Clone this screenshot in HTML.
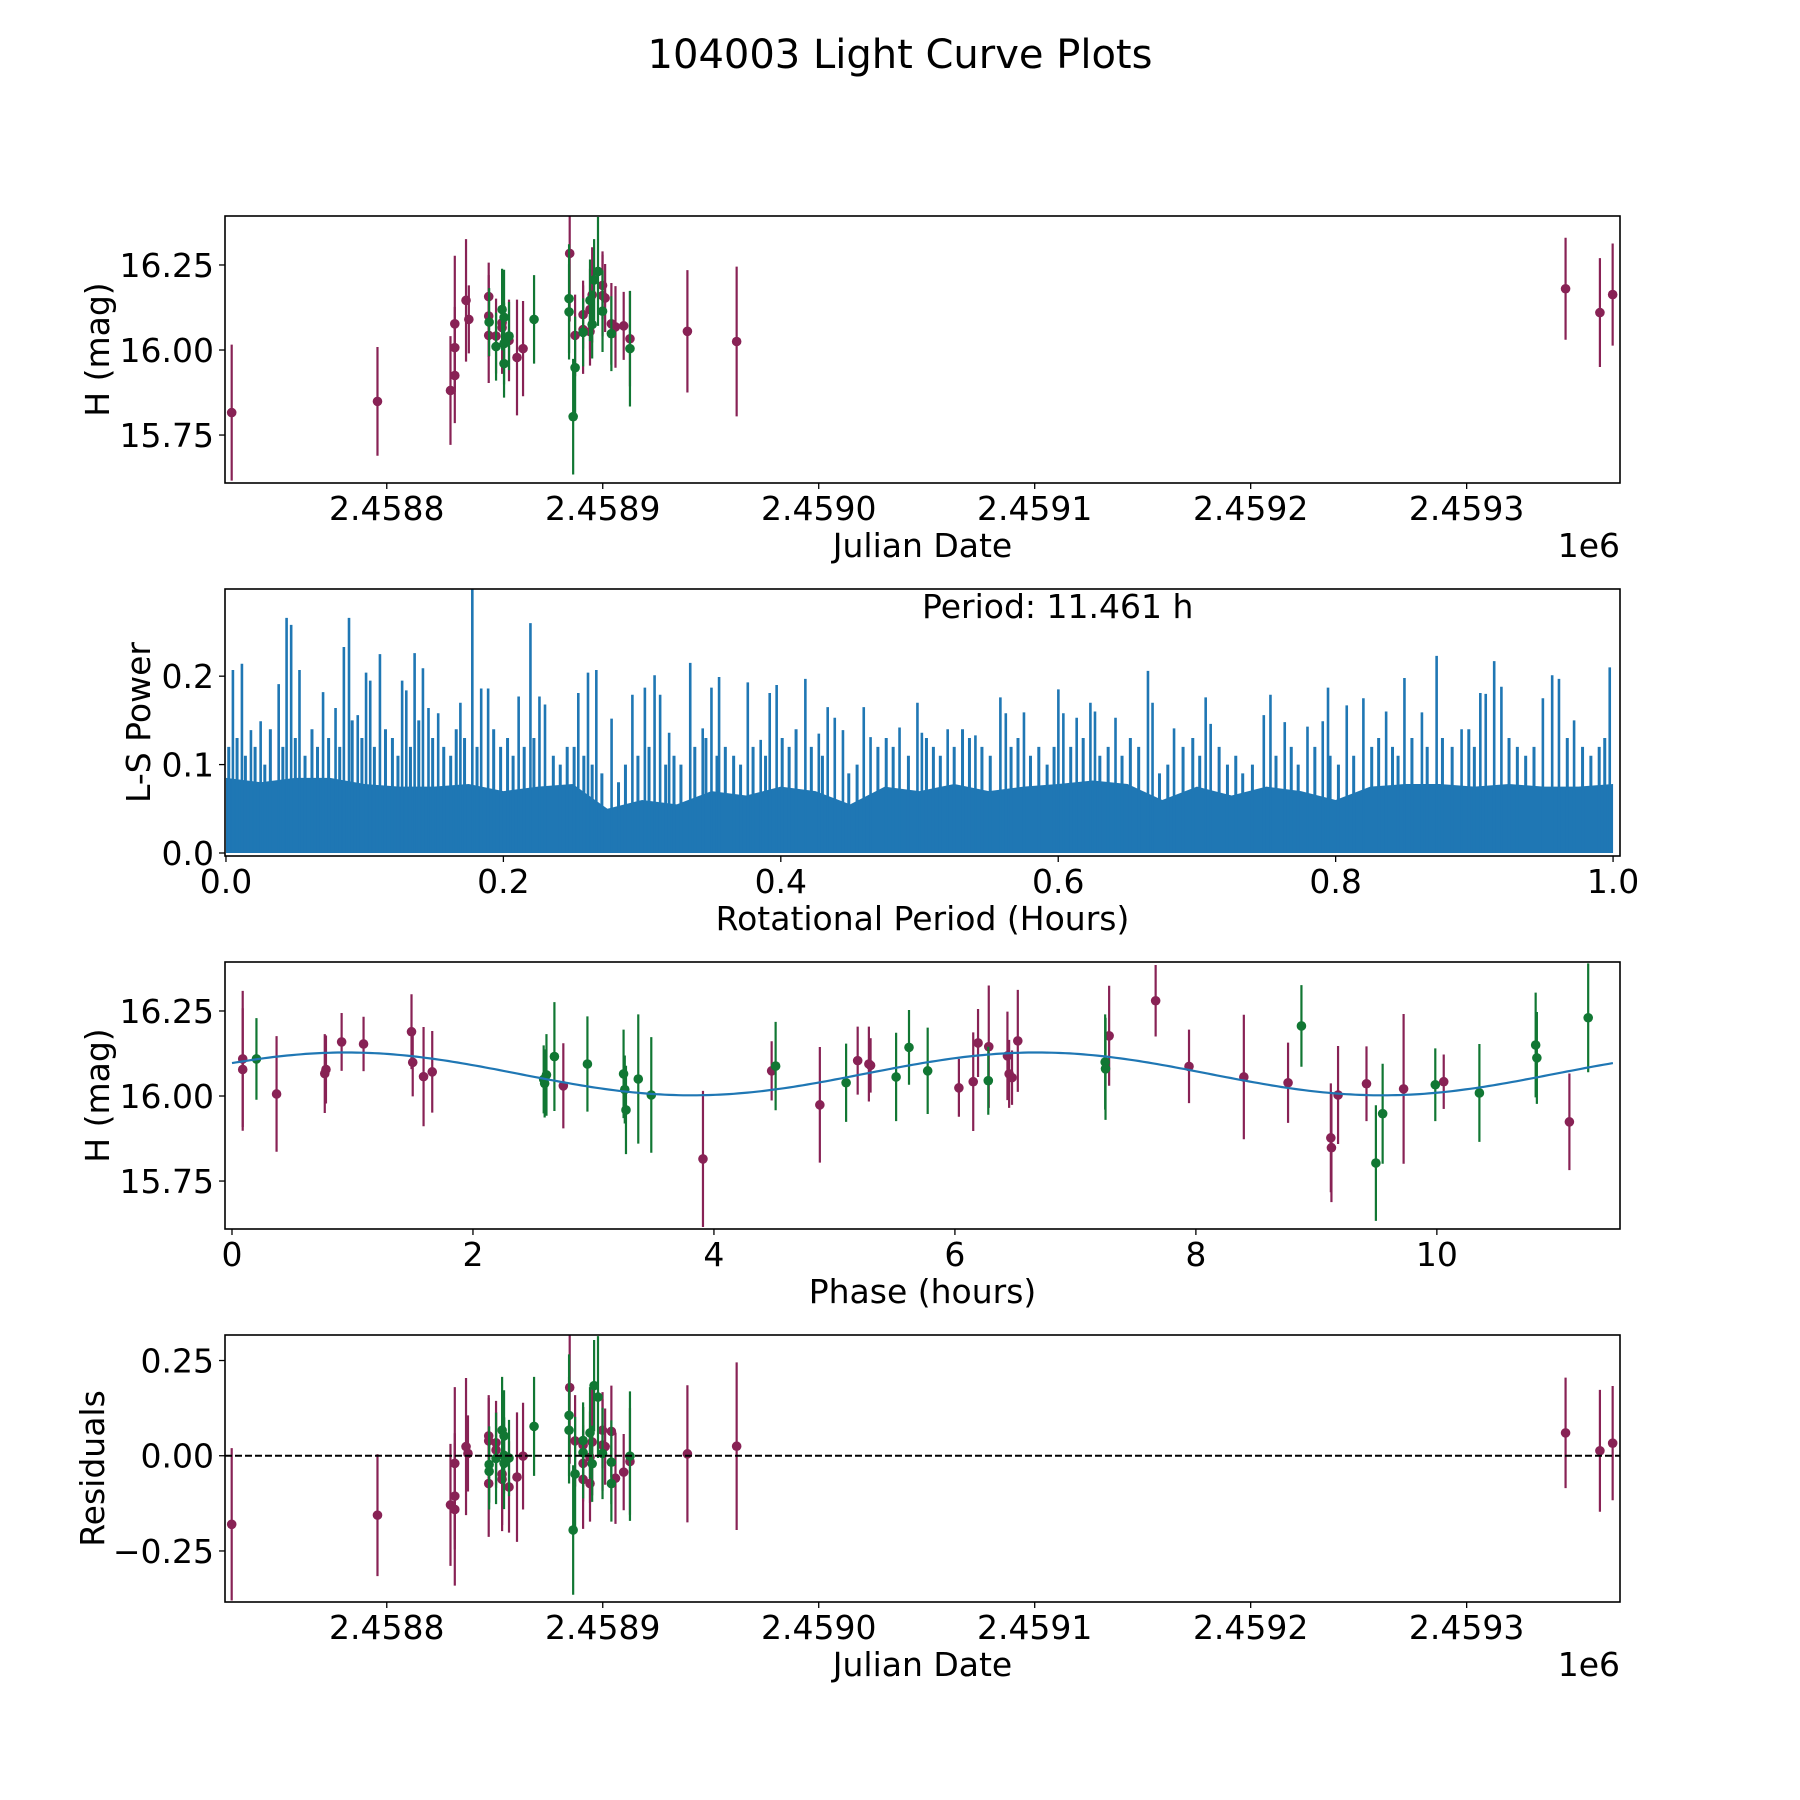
<!DOCTYPE html>
<html><head><meta charset="utf-8"><title>104003 Light Curve Plots</title>
<style>html,body{margin:0;padding:0;background:#fff}svg{display:block}text{font-family:"DejaVu Sans","Liberation Sans",sans-serif;fill:#000}</style>
</head><body>
<svg id="fig" xmlns="http://www.w3.org/2000/svg" width="1800" height="1800" viewBox="0 0 1800 1800">
<rect x="0" y="0" width="1800" height="1800" fill="#fff"/>
<text x="900" y="68" font-size="40" text-anchor="middle">104003 Light Curve Plots</text>
<g id="layer"></g>
</svg>
<script>
// ---------- data: panel 1 (H vs Julian Date), JD given as offset from 2458800 ----------
const jdBase = 2458800;
const lcPurpleJd = [-71.8,-4.3,29.5,31.5,31.5,31.5,36.7,38.0,47.2,47.2,47.2,50.6,53.4,53.4,56.6,60.3,63.1,84.7,87.2,90.9,90.9,94.1,94.1,95.1,99.9,99.9,101.1,104,105.9,109.7,112.6,139.2,162,545.8,561.7,567.6];
const lcPurpleMag = [15.816,15.849,15.881,15.925,16.007,16.077,16.146,16.09,16.157,16.10,16.043,16.041,16.08,16.066,16.028,15.978,16.004,16.284,16.043,16.104,16.06,16.054,16.119,16.162,16.19,16.16,16.153,16.077,16.068,16.071,16.033,16.055,16.025,16.18,16.11,16.163];
const lcPurpleErr = [0.2,0.16,0.16,0.14,0.12,0.2,0.18,0.1,0.1,0.12,0.14,0.11,0.15,0.12,0.12,0.17,0.14,0.2,0.12,0.1,0.13,0.1,0.12,0.14,0.1,0.12,0.1,0.12,0.12,0.1,0.14,0.18,0.22,0.15,0.16,0.15];
const lcGreenJd = [47.4,50.6,53.4,54.3,54.3,54.3,56.6,68.2,84.4,84.4,86.3,87.2,90.9,94.1,95.1,96,97.8,99.9,104,112.6];
const lcGreenMag = [16.082,16.01,16.119,16.096,15.96,16.019,16.041,16.09,16.151,16.112,15.804,15.948,16.052,16.146,16.075,16.206,16.231,16.114,16.048,16.004];
const lcGreenErr = [0.1,0.1,0.12,0.14,0.1,0.12,0.1,0.13,0.16,0.14,0.17,0.15,0.1,0.12,0.1,0.12,0.16,0.12,0.11,0.17];
const jdTicks = [2458800,2458900,2459000,2459100,2459200,2459300];
const jdTickLabels = ["2.4588","2.4589","2.4590","2.4591","2.4592","2.4593"];
const magTicks = [15.75,16.00,16.25];
const magTickLabels = ["15.75","16.00","16.25"];

// ---------- data: panel 2 (periodogram) ----------
const pgPeakPeriod = [0.005,0.0115,0.018,0.025,0.038,0.0437,0.047,0.053,0.07,0.079,0.085,0.0887,0.095,0.101,0.104,0.111,0.127,0.130,0.136,0.142,0.146,0.153,0.169,0.1776,0.184,0.189,0.211,0.2195,0.226,0.230,0.254,0.261,0.267,0.278,0.293,0.302,0.309,0.313,0.3195,0.3347,0.3437,0.350,0.3555,0.3762,0.3855,0.392,0.397,0.4177,0.4274,0.4338,0.4389,0.4448,0.4598,0.4647,0.4856,0.4985,0.5017,0.5203,0.5403,0.5583,0.5622,0.5753,0.6001,0.6037,0.6133,0.6232,0.6265,0.6413,0.6647,0.668,0.6835,0.7063,0.7099,0.7482,0.753,0.7633,0.7797,0.7907,0.7945,0.808,0.82,0.8364,0.8496,0.8622,0.8728,0.8908,0.9043,0.9082,0.9143,0.9195,0.9494,0.9561,0.961,0.9719,0.9976];
const pgPeakPower = [0.207,0.214,0.139,0.149,0.191,0.266,0.258,0.207,0.182,0.164,0.233,0.266,0.156,0.204,0.195,0.225,0.195,0.184,0.226,0.209,0.164,0.158,0.170,0.300,0.186,0.186,0.177,0.26,0.177,0.168,0.181,0.204,0.207,0.152,0.179,0.187,0.201,0.179,0.136,0.215,0.141,0.187,0.199,0.193,0.128,0.181,0.190,0.197,0.135,0.165,0.153,0.139,0.165,0.131,0.142,0.170,0.136,0.140,0.133,0.176,0.158,0.159,0.185,0.158,0.153,0.170,0.160,0.153,0.206,0.170,0.141,0.176,0.146,0.156,0.179,0.148,0.143,0.149,0.187,0.167,0.175,0.160,0.198,0.159,0.223,0.140,0.181,0.180,0.217,0.188,0.175,0.201,0.197,0.150,0.210];
const pgMinorPeriod = [0.002,0.008,0.014,0.021,0.028,0.032,0.041,0.050,0.057,0.062,0.066,0.074,0.082,0.091,0.098,0.107,0.115,0.120,0.124,0.133,0.139,0.149,0.157,0.162,0.166,0.172,0.181,0.193,0.198,0.203,0.207,0.215,0.222,0.236,0.241,0.246,0.251,0.258,0.264,0.271,0.283,0.288,0.297,0.305,0.317,0.323,0.328,0.338,0.346,0.354,0.360,0.366,0.371,0.380,0.389,0.401,0.406,0.411,0.422,0.430,0.449,0.455,0.470,0.476,0.481,0.492,0.505,0.510,0.515,0.525,0.531,0.536,0.545,0.551,0.566,0.571,0.580,0.586,0.592,0.597,0.609,0.618,0.630,0.636,0.646,0.652,0.658,0.673,0.679,0.690,0.697,0.702,0.716,0.722,0.728,0.733,0.740,0.757,0.768,0.773,0.785,0.796,0.802,0.813,0.826,0.831,0.841,0.845,0.855,0.866,0.877,0.884,0.896,0.900,0.925,0.931,0.937,0.943,0.967,0.978,0.984,0.990,0.994];
const pgMinorPower = [0.12,0.13,0.11,0.12,0.10,0.14,0.12,0.13,0.11,0.14,0.12,0.13,0.12,0.15,0.13,0.12,0.14,0.13,0.11,0.12,0.15,0.13,0.12,0.11,0.14,0.13,0.12,0.14,0.12,0.13,0.11,0.12,0.13,0.11,0.10,0.12,0.12,0.11,0.10,0.09,0.08,0.10,0.11,0.12,0.10,0.11,0.10,0.12,0.13,0.11,0.12,0.11,0.10,0.12,0.11,0.13,0.12,0.14,0.12,0.11,0.09,0.10,0.12,0.13,0.12,0.11,0.13,0.12,0.11,0.12,0.14,0.13,0.12,0.11,0.12,0.13,0.11,0.12,0.10,0.12,0.12,0.13,0.11,0.12,0.11,0.13,0.12,0.09,0.10,0.12,0.13,0.11,0.12,0.10,0.11,0.09,0.10,0.11,0.12,0.10,0.12,0.11,0.10,0.11,0.12,0.13,0.12,0.11,0.13,0.12,0.13,0.12,0.14,0.12,0.13,0.12,0.11,0.12,0.13,0.12,0.11,0.12,0.13];
const pgBandPeriod = [0,0.025,0.05,0.075,0.1,0.125,0.15,0.175,0.2,0.225,0.25,0.275,0.3,0.325,0.35,0.375,0.4,0.425,0.45,0.475,0.5,0.525,0.55,0.575,0.6,0.625,0.65,0.675,0.7,0.725,0.75,0.775,0.8,0.825,0.85,0.875,0.9,0.925,0.95,0.975,1.0];
const pgBandPower = [0.085,0.08,0.085,0.085,0.078,0.075,0.075,0.078,0.07,0.075,0.078,0.05,0.06,0.055,0.07,0.065,0.075,0.07,0.055,0.075,0.07,0.078,0.07,0.075,0.078,0.082,0.078,0.06,0.075,0.065,0.075,0.07,0.06,0.075,0.078,0.078,0.075,0.078,0.075,0.075,0.078];
const periodTicks = [0,0.2,0.4,0.6,0.8,1.0];
const periodTickLabels = ["0.0","0.2","0.4","0.6","0.8","1.0"];
const powerTicks = [0,0.1,0.2];
const powerTickLabels = ["0.0","0.1","0.2"];

// ---------- data: panel 3 (phase-folded) ----------
const phPurplePhase = [0.089,0.089,0.37,0.77,0.78,0.91,1.092,1.49,1.50,1.59,1.662,2.75,3.909,4.479,4.879,5.193,5.286,5.30,6.033,6.152,6.192,6.281,6.436,6.45,6.474,6.522,7.28,7.666,7.943,8.398,8.765,9.12,9.125,9.18,9.416,9.724,10.057,11.1];
const phPurpleMag = [16.109,16.078,16.006,16.066,16.078,16.159,16.153,16.189,16.099,16.057,16.071,16.03,15.815,16.074,15.974,16.104,16.094,16.09,16.024,16.042,16.156,16.145,16.118,16.065,16.054,16.162,16.177,16.28,16.087,16.056,16.039,15.877,15.848,16.003,16.036,16.021,16.042,15.924];
const phPurpleErr = [0.2,0.18,0.17,0.116,0.1,0.085,0.08,0.11,0.1,0.146,0.12,0.125,0.2,0.087,0.17,0.1,0.11,0.08,0.085,0.145,0.1,0.18,0.13,0.1,0.08,0.15,0.147,0.105,0.108,0.183,0.118,0.16,0.16,0.144,0.11,0.22,0.08,0.142];
const phGreenPhase = [0.203,2.587,2.595,2.61,2.676,2.95,3.25,3.26,3.27,3.372,3.48,4.512,5.097,5.512,5.619,5.774,6.277,7.247,7.25,8.876,9.494,9.55,9.987,10.353,10.82,10.83,11.256];
const phGreenMag = [16.109,16.049,16.037,16.062,16.116,16.094,16.065,16.019,15.959,16.05,16.003,16.088,16.039,16.056,16.143,16.074,16.045,16.10,16.08,16.206,15.803,15.948,16.033,16.009,16.15,16.112,16.23];
const phGreenErr = [0.12,0.1,0.1,0.12,0.16,0.14,0.13,0.1,0.13,0.19,0.17,0.13,0.115,0.13,0.11,0.127,0.1,0.14,0.15,0.12,0.17,0.147,0.107,0.144,0.154,0.135,0.16];
const modelMean = 16.065, modelAmp = 0.063, modelPhase0 = 0.95, rotPeriod = 11.461;
const phaseTicks = [0,2,4,6,8,10];
const phaseTickLabels = ["0","2","4","6","8","10"];

// ---------- data: panel 4 (residuals vs JD) ----------
const resPurpleJd = [-71.8,-4.3,29.5,31.5,31.5,31.5,36.7,37.6,47.2,47.2,47.2,50.6,50.6,53.4,53.4,56.6,60.3,63.1,84.7,87.2,90.9,90.9,90.9,94.1,94.1,95.1,99.9,99.9,101.1,104,105.9,109.7,112.6,139.2,162,545.8,561.7,567.6];
const resPurpleVal = [-0.18,-0.156,-0.129,-0.106,-0.141,-0.02,0.024,0.006,0.052,0.039,-0.073,0.034,0.015,-0.048,-0.062,-0.082,-0.056,-0.001,0.179,0.039,-0.02,-0.062,0.028,-0.004,-0.073,0.036,0.067,0.028,0.024,0.064,-0.059,-0.043,-0.015,0.005,0.025,0.06,0.013,0.033];
const resPurpleErr = [0.2,0.16,0.16,0.14,0.2,0.2,0.18,0.1,0.1,0.12,0.14,0.11,0.1,0.15,0.12,0.12,0.17,0.14,0.2,0.12,0.1,0.13,0.1,0.12,0.1,0.14,0.1,0.12,0.1,0.12,0.12,0.1,0.14,0.18,0.22,0.145,0.16,0.15];
const resGreenJd = [47.4,47.4,50.6,53.4,54.3,54.3,54.3,56.6,68.2,84.4,84.4,86.3,87.2,90.9,90.9,94.1,95.1,96,97.8,99.9,104,104,112.6];
const resGreenVal = [-0.023,-0.041,-0.007,0.067,0.052,0.001,-0.02,-0.006,0.077,0.106,0.067,-0.195,-0.048,0.04,0.008,0.06,-0.021,0.184,0.154,0.006,-0.017,-0.073,-0.001];
const resGreenErr = [0.1,0.1,0.12,0.14,0.12,0.1,0.12,0.1,0.13,0.16,0.14,0.17,0.15,0.1,0.12,0.12,0.1,0.12,0.16,0.12,0.11,0.1,0.17];
const resTicks = [-0.25,0,0.25];
const resTickLabels = ["\u22120.25","0.00","0.25"];

// ---------- layout ----------
const NS = "http://www.w3.org/2000/svg";
const layer = document.getElementById('layer');
const L = 225, R = 1620;
const P1 = 216, P2 = 589, P3 = 962, P4 = 1335, PH = 267;
const FS = 33;
const PURPLE = "#882255", GREEN = "#117733", BLUE = "#1f77b4";
function mk(tag, attrs, parent) { const e = document.createElementNS(NS, tag); for (const k in attrs) e.setAttribute(k, attrs[k]); (parent || layer).appendChild(e); return e; }
function lin(d0, d1, r0, r1) { return v => r0 + (v - d0) / (d1 - d0) * (r1 - r0); }

const xJD = lin(2458725.1 - jdBase, 2459371 - jdBase, L, R);
const yMag1 = lin(16.394, 15.609, P1, P1 + PH);
const xPer = lin(-0.0007, 1.005, L, R);
const yPow = lin(0.2986, -0.0034, P2, P2 + PH);
const xPh = lin(-0.058, 11.52, L, R);
const yMag3 = lin(16.394, 15.609, P3, P3 + PH);
const yRes = lin(0.317, -0.384, P4, P4 + PH);

function frame(top, name) {
  const r = mk('rect', {x: L, y: top, width: R - L, height: PH, fill: 'none', stroke: '#000', 'stroke-width': 1.6});
  
  
}
function xTicks(top, ticks, labels, sx, name) {
  const g = mk('g', {});
  
  
  ticks.forEach((t, i) => {
    const x = sx(t);
    mk('line', {x1: x, x2: x, y1: top + PH, y2: top + PH + 6, stroke: '#000', 'stroke-width': 1.3}, g);
    const tx = mk('text', {x: x, y: top + PH + 37, 'font-size': FS, 'text-anchor': 'middle'}, g);
    tx.textContent = labels[i];
  });
}
function yTicks(top, ticks, labels, sy, name) {
  const g = mk('g', {});
  
  
  ticks.forEach((t, i) => {
    const y = sy(t);
    mk('line', {x1: L - 6, x2: L, y1: y, y2: y, stroke: '#000', 'stroke-width': 1.3}, g);
    const tx = mk('text', {x: L - 11, y: y + 12, 'font-size': FS, 'text-anchor': 'end'}, g);
    tx.textContent = labels[i];
  });
}
function xLabel(top, txt, name) {
  const t = mk('text', {x: (L + R) / 2, y: top + PH + 74, 'font-size': FS, 'text-anchor': 'middle'});
  t.textContent = txt;
  
  
}
function yLabel(top, x, txt, name) {
  const cy = top + PH / 2;
  const t = mk('text', {x: x, y: cy, 'font-size': FS, 'text-anchor': 'middle', transform: `rotate(-90 ${x} ${cy})`});
  t.textContent = txt;
  
  
}
function offsetText(top, name) {
  const t = mk('text', {x: R, y: top + PH + 74, 'font-size': FS, 'text-anchor': 'end'});
  t.textContent = '1e6';
  
  
}
function clip(id, top) {
  const cp = mk('clipPath', {id: id});
  mk('rect', {x: L, y: top, width: R - L, height: PH}, cp);
}
function errPoints(xs, ys, es, sx, sy, color, clipId, name) {
  const g = mk('g', {'clip-path': `url(#${clipId})`});
  
  
  xs.forEach((xv, i) => {
    const x = sx(xv);
    const bar = mk('line', {x1: x, x2: x, y1: sy(ys[i] + es[i]), y2: sy(ys[i] - es[i]), stroke: color, 'stroke-width': 2.2}, g);
    
    
  });
  xs.forEach((xv, i) => {
    const c = mk('circle', {cx: sx(xv), cy: sy(ys[i]), r: 4.8, fill: color}, g);
    
    
  });
}

// ---------- panel 1 ----------
clip('c1', P1);
errPoints(lcPurpleJd, lcPurpleMag, lcPurpleErr, xJD, yMag1, PURPLE, 'c1', 'lightcurve-series-purple');
errPoints(lcGreenJd, lcGreenMag, lcGreenErr, xJD, yMag1, GREEN, 'c1', 'lightcurve-series-green');
frame(P1, 'lightcurve-axes');
xTicks(P1, jdTicks.map(v => v - jdBase), jdTickLabels, xJD, 'lightcurve-x-ticks');
yTicks(P1, magTicks, magTickLabels, yMag1, 'lightcurve-y-ticks');
xLabel(P1, 'Julian Date', 'lightcurve-x-axis-title');
offsetText(P1, 'lightcurve-x-offset');
yLabel(P1, 109, 'H (mag)', 'lightcurve-y-axis-title');

// ---------- panel 2 ----------
clip('c2', P2);
{
  const g = mk('g', {'clip-path': 'url(#c2)'});
  
  
  let d = `M${xPer(pgBandPeriod[0])},${yPow(0)}`;
  pgBandPeriod.forEach((p, i) => { d += ` L${xPer(p)},${yPow(pgBandPower[i])}`; });
  d += ` L${xPer(pgBandPeriod[pgBandPeriod.length - 1])},${yPow(0)} Z`;
  const band = mk('path', {d: d, fill: BLUE}, g);
  
  
  pgMinorPeriod.forEach((p, i) => {
    const x = xPer(p);
    const s = mk('line', {x1: x, x2: x, y1: yPow(0), y2: yPow(pgMinorPower[i]), stroke: BLUE, 'stroke-width': 3}, g);
    
    
  });
  pgPeakPeriod.forEach((p, i) => {
    const x = xPer(p);
    const s = mk('line', {x1: x, x2: x, y1: yPow(0), y2: yPow(pgPeakPower[i]), stroke: BLUE, 'stroke-width': 2.6}, g);
    
    
  });
}
frame(P2, 'periodogram-axes');
xTicks(P2, periodTicks, periodTickLabels, xPer, 'periodogram-x-ticks');
yTicks(P2, powerTicks, powerTickLabels, yPow, 'periodogram-y-ticks');
xLabel(P2, 'Rotational Period (Hours)', 'periodogram-x-axis-title');
yLabel(P2, 150, 'L-S Power', 'periodogram-y-axis-title');
{
  const t = mk('text', {x: 922, y: 618, 'font-size': FS});
  t.textContent = 'Period: 11.461 h';
  
  
}

// ---------- panel 3 ----------
clip('c3', P3);
errPoints(phPurplePhase, phPurpleMag, phPurpleErr, xPh, yMag3, PURPLE, 'c3', 'phase-series-purple');
errPoints(phGreenPhase, phGreenMag, phGreenErr, xPh, yMag3, GREEN, 'c3', 'phase-series-green');
{
  let d = '';
  for (let k = 0; k <= 300; k++) {
    const ph = rotPeriod * k / 300;
    const m = modelMean + modelAmp * Math.cos(2 * Math.PI * (ph - modelPhase0) / (rotPeriod / 2));
    d += (k ? ' L' : 'M') + xPh(ph).toFixed(1) + ',' + yMag3(m).toFixed(1);
  }
  const p = mk('path', {d: d, fill: 'none', stroke: BLUE, 'stroke-width': 2.2, 'clip-path': 'url(#c3)'});
  
  
}
frame(P3, 'phase-axes');
xTicks(P3, phaseTicks, phaseTickLabels, xPh, 'phase-x-ticks');
yTicks(P3, magTicks, magTickLabels, yMag3, 'phase-y-ticks');
xLabel(P3, 'Phase (hours)', 'phase-x-axis-title');
yLabel(P3, 109, 'H (mag)', 'phase-y-axis-title');

// ---------- panel 4 ----------
clip('c4', P4);
errPoints(resPurpleJd, resPurpleVal, resPurpleErr, xJD, yRes, PURPLE, 'c4', 'residual-series-purple');
errPoints(resGreenJd, resGreenVal, resGreenErr, xJD, yRes, GREEN, 'c4', 'residual-series-green');
{
  const z = mk('line', {x1: L, x2: R, y1: yRes(0), y2: yRes(0), stroke: '#000', 'stroke-width': 2, 'stroke-dasharray': '7,3'});
  
  
}
frame(P4, 'residuals-axes');
xTicks(P4, jdTicks.map(v => v - jdBase), jdTickLabels, xJD, 'residuals-x-ticks');
yTicks(P4, resTicks, resTickLabels, yRes, 'residuals-y-ticks');
xLabel(P4, 'Julian Date', 'residuals-x-axis-title');
offsetText(P4, 'residuals-x-offset');
yLabel(P4, 104, 'Residuals', 'residuals-y-axis-title');
</script>
</body></html>
